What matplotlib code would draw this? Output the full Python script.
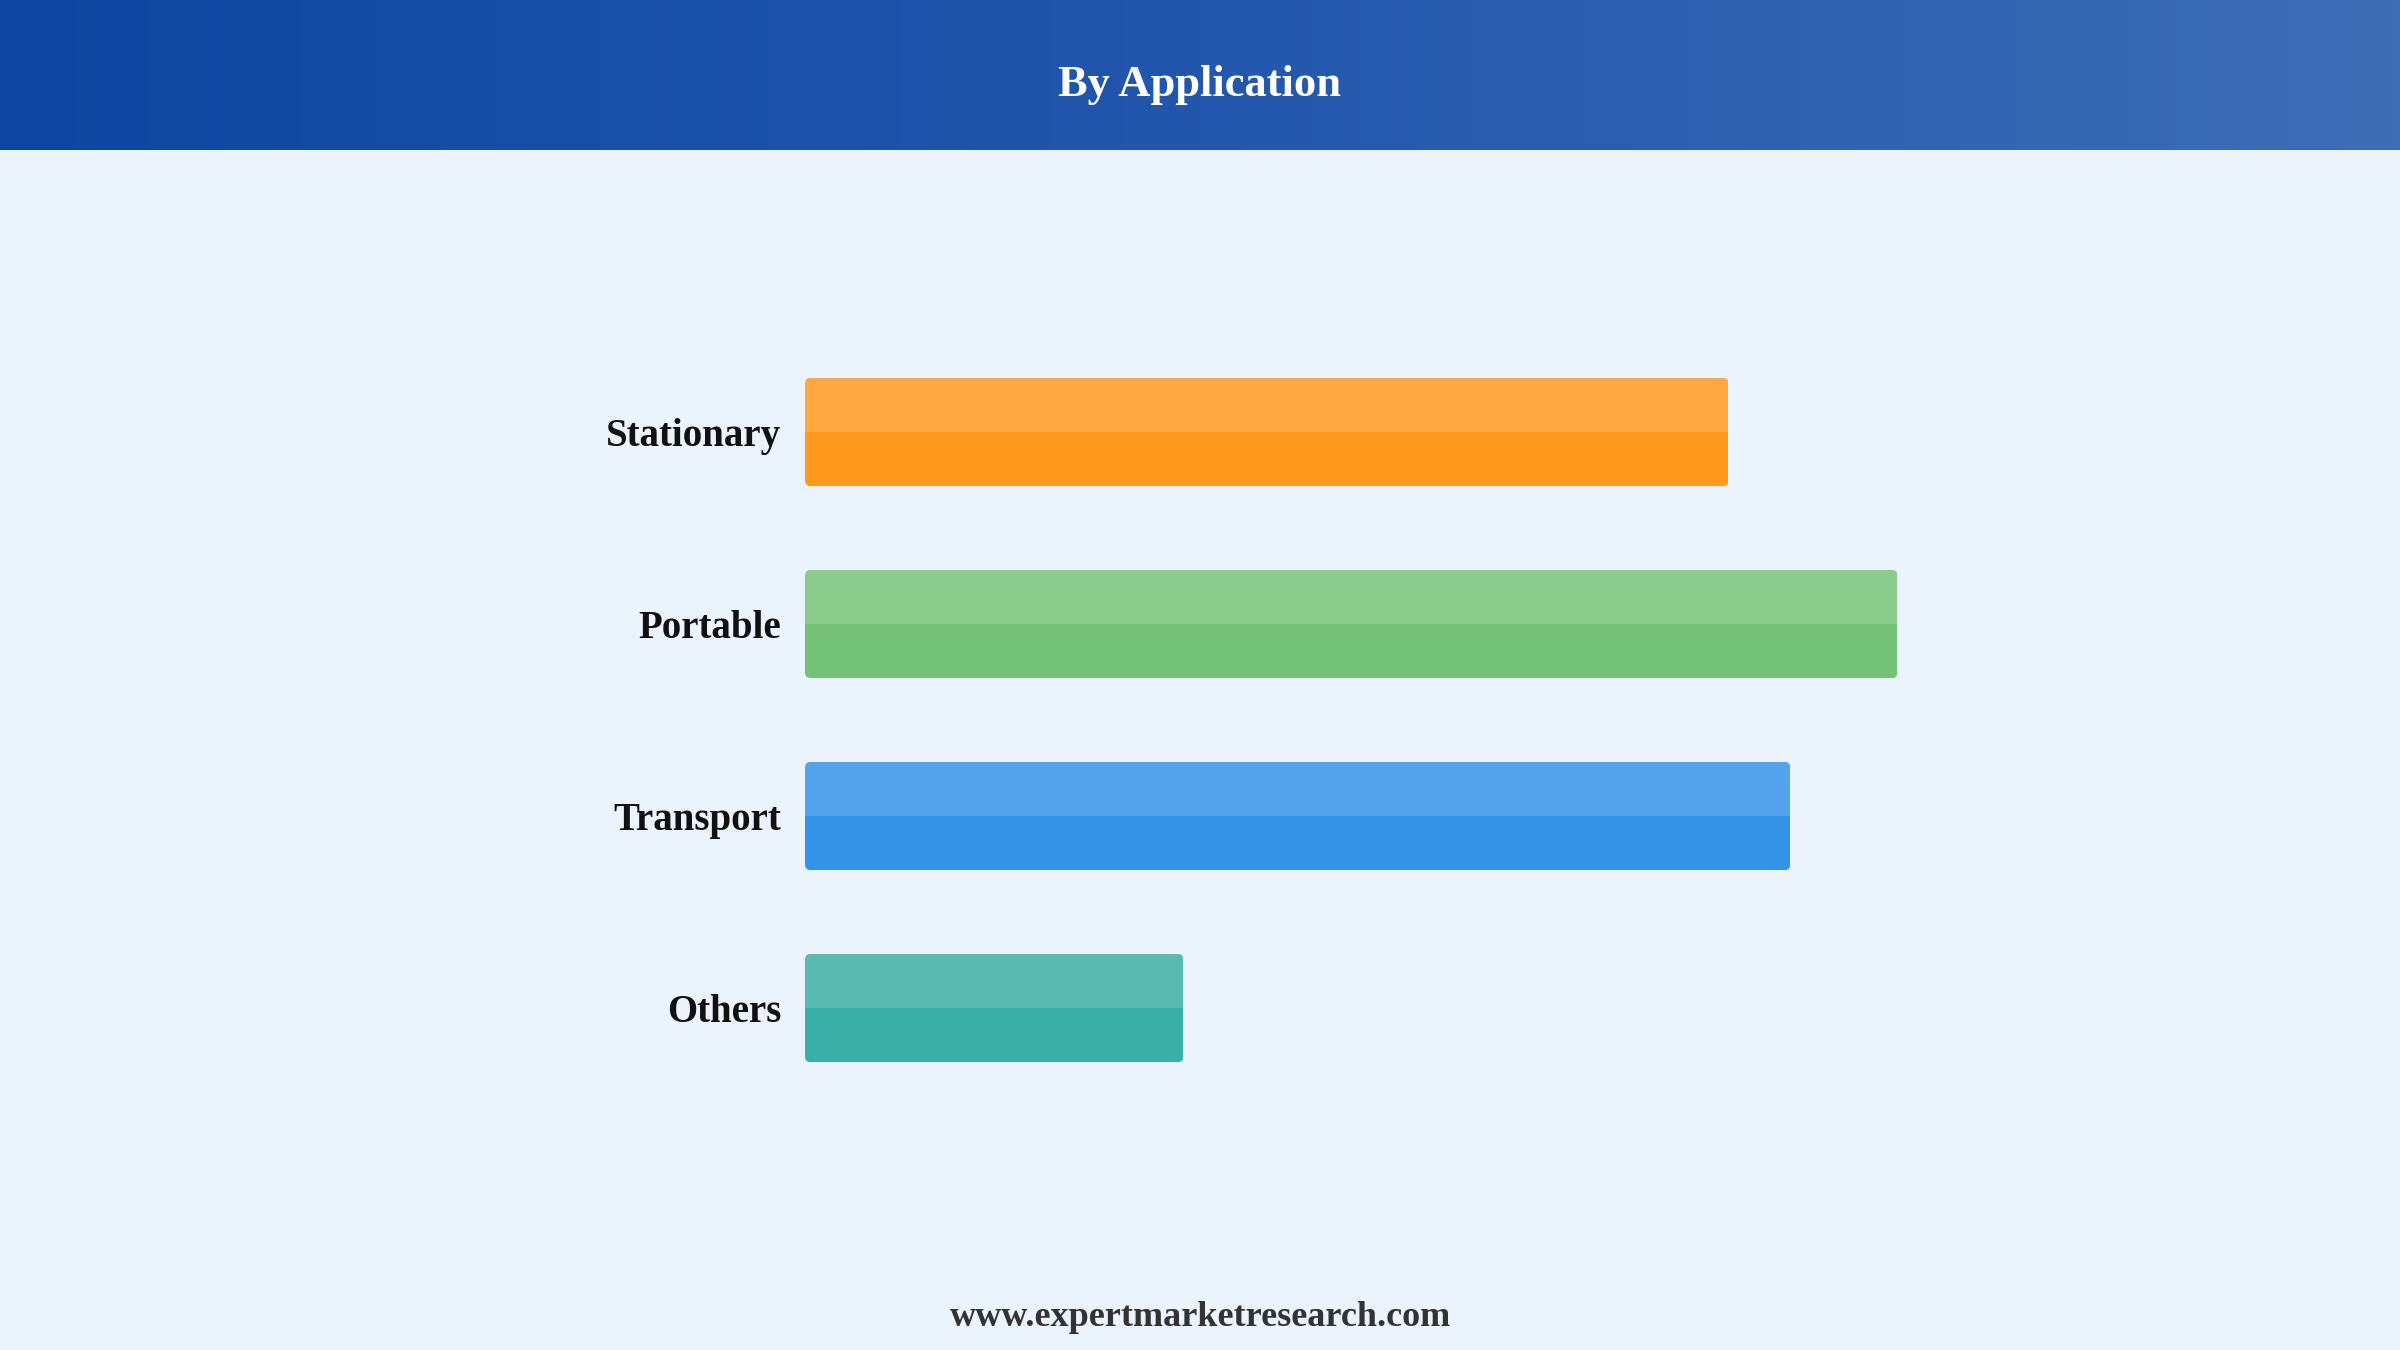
import matplotlib
matplotlib.use("Agg")
import matplotlib.pyplot as plt
import numpy as np
from matplotlib.patches import FancyBboxPatch
from matplotlib.colors import LinearSegmentedColormap

plt.rcParams['font.family'] = ['Liberation Serif', 'DejaVu Serif']

# ---- data ----
categories = ["Stationary", "Portable", "Transport", "Others"]
values = [77.6, 91.8, 82.8, 31.8]
top_colors = ["#FFA740", "#8ACB8B", "#52A3EC", "#59BAB2"]
bottom_colors = ["#FF9A1E", "#73C278", "#3492E7", "#3AAFA7"]
title = "By Application"
footer = "www.expertmarketresearch.com"

W, H = 2400, 1350
fig = plt.figure(figsize=(24, 13.5), dpi=100)
fig.patch.set_facecolor("#EBF3FC")

# header gradient
hax = fig.add_axes([0, 1 - 150 / H, 1, 150 / H])
grad = LinearSegmentedColormap.from_list("hdr", ["#0D47A1", "#2357AD", "#3D6DB5"])
hax.imshow(np.linspace(0, 1, 512).reshape(1, -1), cmap=grad, aspect="auto",
           extent=[0, 1, 0, 1])
hax.set_xlim(0, 1); hax.set_ylim(0, 1)
hax.axis("off")
fig.text(0.5, 1 - 85 / H, title, ha="center", va="center", color="white",
         fontsize=32, fontweight="bold")

# bars axes
left_px, width_px = 805, 1190
top_px, bot_px = 288, 1152
ax = fig.add_axes([left_px / W, 1 - bot_px / H, width_px / W, (bot_px - top_px) / H])
ax.set_facecolor("none")
ax.set_xlim(0, 100)
ax.set_ylim(3.75, -0.75)
bh = 0.565
ypos = np.arange(len(categories))

px_per_x = width_px / 100.0
px_per_y = (bot_px - top_px) / 4.5
aspect = px_per_x / px_per_y
r = 6 / px_per_x

for i, (v, ct, cb) in enumerate(zip(values, top_colors, bottom_colors)):
    clip = FancyBboxPatch((0, i - bh / 2), v, bh,
                          boxstyle=f"round,pad=0,rounding_size={r}",
                          mutation_aspect=aspect, transform=ax.transData,
                          facecolor="none", edgecolor="none")
    ax.add_patch(clip)
    b1 = ax.barh(i - bh / 4, v, height=bh / 2, color=ct, linewidth=0)
    b2 = ax.barh(i + bh / 4, v, height=bh / 2, color=cb, linewidth=0)
    for p in list(b1) + list(b2):
        p.set_clip_path(clip)

ax.set_yticks(ypos)
ax.set_yticklabels(categories, fontsize=28, fontweight="bold", color="#111111")
ax.tick_params(axis="y", length=0, pad=17)
ax.set_xticks([])
for s in ax.spines.values():
    s.set_visible(False)

fig.text(0.5, 1 - 1318 / H, footer, ha="center", va="center", color="#333333",
         fontsize=26, fontweight="bold")

fig.savefig("out.png", dpi=100, facecolor=fig.get_facecolor())
